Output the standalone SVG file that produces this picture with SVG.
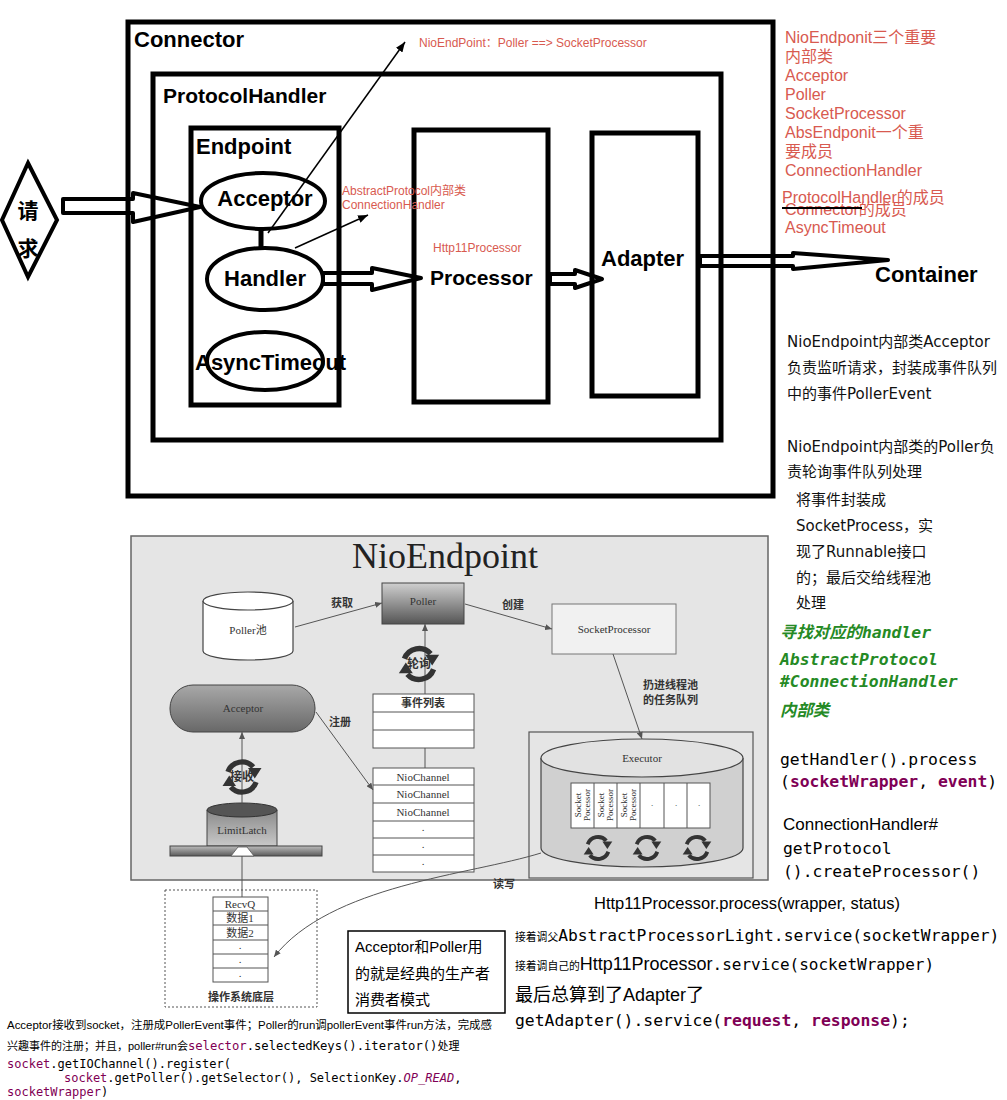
<svg xmlns="http://www.w3.org/2000/svg" width="1007" height="1100" viewBox="0 0 1007 1100">
<style>
.box{fill:none;stroke:#000;stroke-width:5}
.ell{fill:#fff;stroke:#000;stroke-width:4}
.hol{fill:none;stroke:#000;stroke-width:4;stroke-linejoin:round}
.thin{fill:none;stroke:#000;stroke-width:1.5}
.lbl{font-family:"Liberation Sans","Noto Sans CJK SC",sans-serif;font-weight:bold;font-size:22px;fill:#000}
.red{font-family:"Liberation Sans","Noto Sans CJK SC",sans-serif;fill:#d85a50}
.note{font-family:"DejaVu Sans","Noto Sans CJK SC",sans-serif;font-size:15px;fill:#111}
.mono{font-family:"DejaVu Sans Mono","Noto Sans CJK SC",monospace;fill:#000}
.kw{fill:#7f0055;font-weight:bold}
.grn{font-family:"DejaVu Sans Mono","Noto Sans CJK SC",monospace;font-weight:bold;font-style:italic;fill:#258a25;font-size:16.4px}
.sans{font-family:"Liberation Sans","Noto Sans CJK SC",sans-serif;fill:#000}
.pic{font-family:"Liberation Serif","Noto Sans CJK SC",serif;font-size:11px;fill:#333}
.picb{font-family:"Liberation Serif","Noto Sans CJK SC",serif;font-size:11px;font-weight:bold;fill:#333}
.pl{fill:none;stroke:#555;stroke-width:1}
.tb{fill:#fff;stroke:#555;stroke-width:1}
</style>
<defs>
<marker id="ah" markerWidth="10" markerHeight="8" refX="10" refY="4" orient="auto" markerUnits="userSpaceOnUse"><path d="M0,0 L10,4 L0,8 z" fill="#000"/></marker>
<marker id="ap" markerWidth="7" markerHeight="6" refX="7" refY="3" orient="auto" markerUnits="userSpaceOnUse"><path d="M0,0 L7,3 L0,6 z" fill="#555"/></marker>
<linearGradient id="gPoller" x1="0" y1="0" x2="0" y2="1"><stop offset="0" stop-color="#cfcfcf"/><stop offset="1" stop-color="#555"/></linearGradient>
<linearGradient id="gAcc" x1="0" y1="0" x2="0" y2="1"><stop offset="0" stop-color="#a8a8a8"/><stop offset="1" stop-color="#686868"/></linearGradient>
<linearGradient id="gLL" x1="0" y1="0" x2="0" y2="1"><stop offset="0" stop-color="#8a8a8a"/><stop offset="1" stop-color="#c8c8c8"/></linearGradient>
<linearGradient id="gPlate" x1="0" y1="0" x2="0" y2="1"><stop offset="0" stop-color="#bdbdbd"/><stop offset="1" stop-color="#5a5a5a"/></linearGradient>
<g id="cyc">
<path d="M-9.4,-3.4 A10,10 0 0 1 7.5,-6.6" fill="none" stroke="#333" stroke-width="3.5"/>
<path d="M4,-6 L13,-6 L8.5,1 z" fill="#333"/>
<path d="M9.4,3.4 A10,10 0 0 1 -7.5,6.6" fill="none" stroke="#333" stroke-width="3.5"/>
<path d="M-13,6 L-4,6 L-8.5,-1 z" fill="#333"/>
</g>
</defs>

<!-- ===== top diagram ===== -->
<g id="connector"><rect class="box" x="128" y="22" width="645" height="474"/><text class="lbl" x="134" y="47">Connector</text></g>
<g id="protocolhandler"><rect class="box" x="153" y="74" width="568" height="366"/><text class="lbl" x="163" y="103" style="font-size:21px">ProtocolHandler</text></g>
<g id="endpoint"><rect class="box" x="191" y="128" width="148" height="277"/><text class="lbl" x="196" y="154">Endpoint</text></g>
<g id="request"><polygon points="28,163 57,220 28,277 2,220" fill="#fff" stroke="#000" stroke-width="4"/><text class="lbl" x="28" y="218" text-anchor="middle" style="font-size:21px">请</text><text class="lbl" x="28" y="256" text-anchor="middle" style="font-size:21px">求</text></g>
<g id="acceptor"><ellipse class="ell" cx="263" cy="201" rx="62" ry="28"/><text class="lbl" x="265" y="206" text-anchor="middle">Acceptor</text></g>
<g id="handler"><ellipse class="ell" cx="265" cy="279" rx="58" ry="31"/><text class="lbl" x="265" y="286" text-anchor="middle">Handler</text></g>
<g id="asynctimeout"><ellipse class="ell" cx="265" cy="361" rx="58" ry="29"/><text class="lbl" x="195" y="370">AsyncTimeout</text></g>
<g id="processor"><rect class="box" x="414" y="130" width="134" height="272"/><text class="red" x="433" y="252" style="font-size:12px">Http11Processor</text><text class="lbl" x="430" y="285" style="font-size:21px">Processor</text></g>
<g id="adapter"><rect class="box" x="592" y="133" width="106" height="263"/><text class="lbl" x="601" y="266">Adapter</text></g>
<g id="container"><text class="lbl" x="875" y="282">Container</text></g>

<g id="connectors">
<polygon class="hol" points="63,199 133,199 133,193 200,207 133,222 133,213 63,213"/>
<line x1="261" y1="229" x2="261" y2="248" stroke="#000" stroke-width="5"/>
<polygon class="hol" points="323,273 372,273 372,268 421,278 372,290 372,284 323,284"/>
<polygon class="hol" points="550,274 575,274 575,270 602,279 575,288 575,284 550,284"/>
<polygon class="hol" points="700,256 793,256 793,253 888,260 793,269 793,266 700,266"/>
<line class="thin" x1="268" y1="233" x2="405" y2="42" marker-end="url(#ah)"/>
<line class="thin" x1="295" y1="248" x2="368" y2="215" marker-end="url(#ah)"/>
</g>

<g id="redlabels">
<text class="red" x="419" y="47" style="font-size:12px">NioEndPoint：Poller ==&gt; SocketProcessor</text>
<text class="red" x="342" y="195" style="font-size:12px">AbstractProtocol内部类</text>
<text class="red" x="342" y="209" style="font-size:12px">ConnectionHandler</text>
</g>

<g id="right-red" class="red" style="font-size:16px">
<text x="785" y="43">NioEndponit三个重要</text>
<text x="785" y="62">内部类</text>
<text x="785" y="81">Acceptor</text>
<text x="785" y="100">Poller</text>
<text x="785" y="119">SocketProcessor</text>
<text x="785" y="138">AbsEndponit一个重</text>
<text x="785" y="157">要成员</text>
<text x="785" y="176">ConnectionHandler</text>
<text x="782" y="203">ProtocolHandler的成员</text>
<text x="785" y="215">Connector的成员</text>
<text x="785" y="233">AsyncTimeout</text>
</g>
<line x1="782" y1="208" x2="862" y2="208" stroke="#000" stroke-width="2"/>

<g id="right-notes" class="note">
<text x="787" y="347">NioEndpoint内部类Acceptor</text>
<text x="787" y="373">负责监听请求，封装成事件队列</text>
<text x="787" y="399">中的事件PollerEvent</text>
<text x="787" y="452">NioEndpoint内部类的Poller负</text>
<text x="787" y="477">责轮询事件队列处理</text>
<text x="796" y="505">将事件封装成</text>
<text x="796" y="531">SocketProcess，实</text>
<text x="796" y="557">现了Runnable接口</text>
<text x="796" y="583">的；最后交给线程池</text>
<text x="796" y="608">处理</text>
</g>

<g id="green-notes" class="grn">
<text x="780" y="638">寻找对应的handler</text>
<text x="780" y="665">AbstractProtocol</text>
<text x="780" y="687">#ConnectionHandler</text>
<text x="780" y="716">内部类</text>
</g>

<g id="code-right" class="mono" style="font-size:16.4px">
<text x="780" y="765">getHandler().process</text>
<text x="780" y="787">(<tspan class="kw">socketWrapper</tspan>, <tspan class="kw">event</tspan>)</text>
<text x="783" y="830" class="sans" style="font-size:17px">ConnectionHandler#</text>
<text x="783" y="854">getProtocol</text>
<text x="783" y="877">().createProcessor()</text>
</g>

<g id="code-bottom">
<text class="sans" x="594" y="909" style="font-size:16.5px">Http11Processor.process(wrapper, status)</text>
<text x="515" y="941"><tspan class="sans" style="font-size:10.8px">接着调父</tspan><tspan class="mono" style="font-size:16.3px">AbstractProcessorLight.service(socketWrapper)</tspan></text>
<text x="515" y="970"><tspan class="sans" style="font-size:10.8px">接着调自己的</tspan><tspan class="sans" style="font-size:18px">Http11Processor</tspan><tspan class="mono" style="font-size:16px">.service(socketWrapper)</tspan></text>
<text class="sans" x="515" y="1001" style="font-size:18px">最后总算到了Adapter了</text>
<text class="mono" x="515" y="1026" style="font-size:16.4px">getAdapter().service(<tspan class="kw">request</tspan>, <tspan class="kw">response</tspan>);</text>
</g>

<g id="code-left">
<text class="sans" x="7" y="1029" style="font-size:11px" textLength="485" lengthAdjust="spacingAndGlyphs">Acceptor接收到socket，注册成PollerEvent事件；Poller的run调pollerEvent事件run方法，完成感</text>
<text x="7" y="1050"><tspan class="sans" style="font-size:11px">兴趣事件的注册；并且，poller#run会</tspan><tspan class="mono" style="font-size:12.2px"><tspan class="kw" style="font-weight:normal">selector</tspan>.selectedKeys().iterator()</tspan><tspan class="sans" style="font-size:11px">处理</tspan></text>
<text class="mono" x="7" y="1068" style="font-size:12px"><tspan class="kw" style="font-weight:normal">socket</tspan>.getIOChannel().register(</text>
<text class="mono" x="64" y="1082" style="font-size:12px"><tspan class="kw" style="font-weight:normal">socket</tspan>.getPoller().getSelector(), SelectionKey.<tspan class="kw" style="font-weight:normal;font-style:italic">OP_READ</tspan>,</text>
<text class="mono" x="7" y="1096" style="font-size:12px"><tspan class="kw" style="font-weight:normal">socketWrapper</tspan>)</text>
</g>

<g id="pc-note"><rect x="348" y="931" width="157" height="82" fill="#fff" stroke="#000" stroke-width="1.5"/>
<text class="sans" x="355" y="952" style="font-size:15px">Acceptor和Poller用</text>
<text class="sans" x="355" y="979" style="font-size:15px">的就是经典的生产者</text>
<text class="sans" x="355" y="1005" style="font-size:15px">消费者模式</text></g>

<!-- ===== NioEndpoint picture ===== -->
<g id="nio-picture">
<rect x="131" y="536" width="637" height="344" fill="#e5e5e5" stroke="#666" stroke-width="1.5"/>
<text x="352" y="568" style="font-family:'Liberation Serif',serif;font-size:36px;fill:#222">NioEndpoint</text>
</g>
<g id="poller-pool"><path d="M203,601 L203,651 A45,9 0 0 0 293,651 L293,601" fill="#fff" stroke="#444" stroke-width="1.2"/><ellipse cx="248" cy="601" rx="45" ry="9" fill="#fff" stroke="#444" stroke-width="1.2"/><text class="pic" x="248" y="634" text-anchor="middle">Poller池</text></g>
<g id="poller"><rect x="382" y="583" width="82" height="41" fill="url(#gPoller)" stroke="#444"/><text class="pic" x="423" y="605" text-anchor="middle">Poller</text></g>
<g id="socketprocessor"><rect x="552" y="604" width="124" height="50" fill="#f1f1f1" stroke="#777"/><text class="pic" x="614" y="633" text-anchor="middle">SocketProcessor</text></g>
<g id="acceptor-pic"><rect x="170" y="685" width="145" height="47" rx="23" fill="url(#gAcc)" stroke="#444"/><text class="pic" x="243" y="712" text-anchor="middle">Acceptor</text></g>
<g id="eventlist"><rect class="tb" x="373" y="694" width="101" height="54"/><line class="pl" x1="373" y1="712" x2="474" y2="712"/><line class="pl" x1="373" y1="730" x2="474" y2="730"/><text class="picb" x="423" y="707" text-anchor="middle">事件列表</text></g>
<g id="niochannels"><rect class="tb" x="373" y="768" width="101" height="104"/>
<line class="pl" x1="373" y1="785" x2="474" y2="785"/><line class="pl" x1="373" y1="803" x2="474" y2="803"/><line class="pl" x1="373" y1="821" x2="474" y2="821"/><line class="pl" x1="373" y1="838" x2="474" y2="838"/><line class="pl" x1="373" y1="855" x2="474" y2="855"/>
<text class="pic" x="423" y="781" text-anchor="middle">NioChannel</text><text class="pic" x="423" y="798" text-anchor="middle">NioChannel</text><text class="pic" x="423" y="816" text-anchor="middle">NioChannel</text>
<text class="pic" x="423" y="831" text-anchor="middle">.</text><text class="pic" x="423" y="848" text-anchor="middle">.</text><text class="pic" x="423" y="865" text-anchor="middle">.</text></g>
<g id="limitlatch"><path d="M207,810 L207,846 L277,846 L277,810" fill="url(#gLL)" stroke="#444"/><ellipse cx="242" cy="810" rx="35" ry="7" fill="#555" stroke="#333"/><text class="pic" x="242" y="834" text-anchor="middle">LimitLatch</text>
<rect x="170" y="846" width="152" height="10" fill="url(#gPlate)" stroke="#444"/><polygon points="231,856 254,856 247,847 238,847" fill="#fff" stroke="#555" stroke-width="0.8"/></g>
<g id="executor"><rect x="529" y="732" width="224" height="146" fill="none" stroke="#555" stroke-width="1.2"/>
<path d="M541,758 L541,848 A101,19 0 0 0 743,848 L743,758" fill="#d0d0d0" stroke="#444" stroke-width="1.2"/>
<ellipse cx="642" cy="758" rx="101" ry="19" fill="#e2e2e2" stroke="#444" stroke-width="1.2"/>
<text class="pic" x="642" y="762" text-anchor="middle">Executor</text>
<rect x="571" y="783" width="139" height="45" fill="#fff" stroke="#555"/>
<line class="pl" x1="594" y1="783" x2="594" y2="828"/><line class="pl" x1="617" y1="783" x2="617" y2="828"/><line class="pl" x1="640" y1="783" x2="640" y2="828"/><line class="pl" x1="664" y1="783" x2="664" y2="828"/><line class="pl" x1="687" y1="783" x2="687" y2="828"/>
<g class="pic" style="font-size:9px" text-anchor="middle">
<text transform="translate(581,805) rotate(-90)">Socket</text><text transform="translate(590,805) rotate(-90)">Pocessor</text>
<text transform="translate(604,805) rotate(-90)">Socket</text><text transform="translate(613,805) rotate(-90)">Pocessor</text>
<text transform="translate(627,805) rotate(-90)">Socket</text><text transform="translate(636,805) rotate(-90)">Pocessor</text>
<text x="652" y="806">.</text><text x="676" y="806">.</text><text x="699" y="806">.</text></g>
<use href="#cyc" transform="translate(598,848) scale(1.1)"/><use href="#cyc" transform="translate(647,848) scale(1.1)"/><use href="#cyc" transform="translate(697,848) scale(1.1)"/></g>
<g id="recvq"><rect x="165" y="890" width="152" height="117" fill="none" stroke="#555" stroke-dasharray="2,2"/>
<rect class="tb" x="213" y="897" width="55" height="85"/>
<line class="pl" x1="213" y1="911" x2="268" y2="911"/><line class="pl" x1="213" y1="925" x2="268" y2="925"/><line class="pl" x1="213" y1="940" x2="268" y2="940"/><line class="pl" x1="213" y1="954" x2="268" y2="954"/><line class="pl" x1="213" y1="968" x2="268" y2="968"/>
<text class="pic" x="240" y="908" text-anchor="middle">RecvQ</text><text class="pic" x="240" y="922" text-anchor="middle">数据1</text><text class="pic" x="240" y="937" text-anchor="middle">数据2</text>
<text class="pic" x="240" y="949" text-anchor="middle">.</text><text class="pic" x="240" y="963" text-anchor="middle">.</text><text class="pic" x="240" y="977" text-anchor="middle">.</text>
<text class="picb" x="241" y="1001" text-anchor="middle">操作系统底层</text></g>

<g id="pic-connectors">
<line class="pl" x1="295" y1="627" x2="382" y2="603" marker-end="url(#ap)"/>
<text class="picb" x="342" y="607" text-anchor="middle">获取</text>
<line class="pl" x1="465" y1="604" x2="552" y2="629" marker-end="url(#ap)"/>
<text class="picb" x="513" y="609" text-anchor="middle">创建</text>
<line class="pl" x1="613" y1="654" x2="642" y2="739" marker-end="url(#ap)"/>
<text class="picb" x="643" y="689">扔进线程池</text><text class="picb" x="643" y="704">的任务队列</text>
<line class="pl" x1="316" y1="712" x2="373" y2="790" marker-end="url(#ap)"/>
<text class="picb" x="340" y="726" text-anchor="middle">注册</text>
<line class="pl" x1="425" y1="694" x2="425" y2="624" marker-end="url(#ap)"/>
<line class="pl" x1="425" y1="748" x2="425" y2="768"/>
<line class="pl" x1="242" y1="810" x2="242" y2="732" marker-end="url(#ap)"/>
<line class="pl" x1="242" y1="856" x2="242" y2="897"/>
<path class="pl" d="M541,853 C470,875 330,885 274,957" marker-end="url(#ap)"/>
<text class="picb" x="504" y="888" text-anchor="middle">读写</text>
<use href="#cyc" transform="translate(419,664) scale(1.55)"/>
<text class="picb" x="419" y="668" text-anchor="middle" style="font-size:12px">轮询</text>
<use href="#cyc" transform="translate(242,777) scale(1.5)"/>
<text class="picb" x="242" y="781" text-anchor="middle" style="font-size:12px">接收</text>
</g>
</svg>
